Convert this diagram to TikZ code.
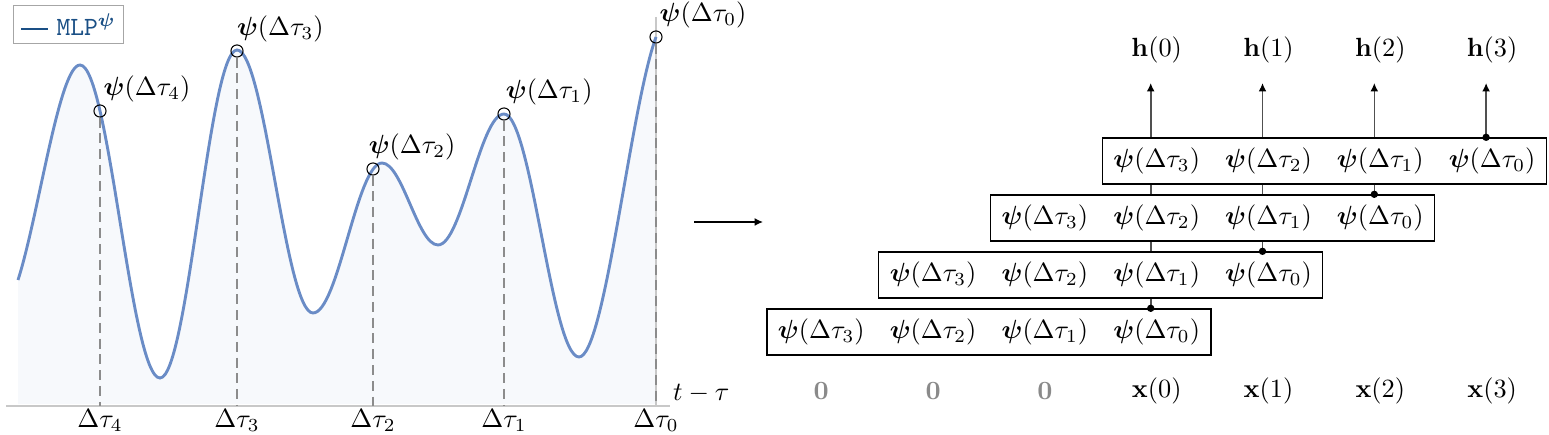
\documentclass[tikz,border=0pt]{standalone}
\usepackage{amsmath}
\usepackage{tikz}
\usetikzlibrary{positioning, arrows.meta, calc, backgrounds}
\definecolor{waveblue}{HTML}{6A8CC6}
\definecolor{wavefill}{HTML}{F7F9FC}
\definecolor{keyblue}{HTML}{1A4F85}
\definecolor{axisgray}{HTML}{C8C8C8}
\definecolor{probegray}{HTML}{8C8C8C}
\definecolor{linkgray}{HTML}{505050}
\definecolor{padgray}{HTML}{8A8A8A}
\newcommand{\psiof}[1]{$\boldsymbol{\psi}(\Delta\tau_{#1})$}
% the MLP output, one cosine-like hump between each extremum
\newcommand{\wave}{(18,280) .. controls (38.7,215.5) and (59.3,65) .. (80,65)
  .. controls +(29.1,0) and +(-29.1,0) .. (160,378)
  .. controls +(28,0) and +(-28,0) .. (237,50)
  .. controls +(27.7,0) and +(-27.7,0) .. (313,313)
  .. controls +(25.1,0) and +(-25.1,0) .. (382,163)
  .. controls +(20.4,0) and +(-20.4,0) .. (438,245)
  .. controls +(24,0) and +(-24,0) .. (504,114)
  .. controls +(27.3,0) and +(-27.3,0) .. (579,357)
  .. controls +(25.7,0) and +(-25.7,70.4) .. (656,37)}
\tikzset{
  wavecurve/.style={draw=waveblue, line width=1.1pt},
  probe/.style={draw=probegray, line width=0.45pt, dash pattern=on 3.8pt off 2.2pt},
  ring/.style={circle, draw, line width=0.4pt, minimum size=4.6pt, inner sep=0pt},
  keybox/.style={draw=gray!70, line width=0.5pt, text=keyblue, minimum width=41.8pt,
                 minimum height=14.4pt, inner sep=2pt},
  rowbox/.style={draw, line width=0.5pt, fill=white, minimum width=168.7pt,
                 minimum height=17.5pt, inner sep=0pt},
  maparrow/.style={-{Latex[length=3.2pt,width=3pt]}, line width=0.5pt},
  uparrow/.style={-{Latex[length=3.2pt,width=3pt,color=black]}, draw=linkgray,
                  line width=0.6pt, shorten >=4pt},
  dot/.style={circle, fill=black, inner sep=0pt, minimum size=2.8pt},
}

\begin{document}
\begin{tikzpicture}[x=0.38pt, y=-0.38pt]
  \useasboundingbox (0,0) rectangle (1549,435);
  \coordinate (o) at (6,406);
  \coordinate (tt) at (670,406);

  % left: sampled curve
  \fill[wavefill] \wave -- (656,404) -- (18,404) -- cycle;
  \draw[axisgray, line width=0.7pt] (o) -- (tt);
  \draw[axisgray, line width=0.6pt] (656,17) -- (656,406);
  \draw[wavecurve] \wave;
  \node[ring] (r4) at (100,111) {};
  \node[ring] (r3) at (237,51) {};
  \node[ring] (r2) at (373,169) {};
  \node[ring] (r1) at (504,114) {};
  \node[ring] (r0) at (656,37) {};
  \foreach \i/\dx in {0/0.7,1/0,2/-2.3,3/-0.7,4/0.7} {
    \draw[probe] (r\i.south) -- (r\i |- o);
    \node[anchor=north, inner sep=1pt] (d\i) at (r\i |- o) {$\Delta\tau_{\i}$};
    \node[anchor=south west, inner sep=0.5pt, xshift=\dx pt] (l\i) at (r\i.north) {\psiof{\i}};
  }
  \node[anchor=south west, inner sep=1pt] (ttau) at (tt) {$t-\tau$};
  \node[keybox, anchor=north west] (key) at (13,5)
       {\rule[0.55ex]{10pt}{0.75pt}\ \texttt{MLP}$^{\boldsymbol{\psi}}$};

  \coordinate (mapfrom) at (694,222);
  \coordinate (mapto) at (763,222);
  \draw[maparrow] (mapfrom) -- (mapto);

  % right: shifted rows of the same four samples
  \foreach \r in {1,...,4} {
    \node[rowbox] (row\r) at ({989+111.8*(\r-1)}, {332-57*(\r-1)}) {};
    \foreach \j [count=\c from 0] in {3,2,1,0}
      \node (p\r\j) at ($(row\r.center)+({111.8*(\c-1.5)},0)$) {\psiof{\j}};
  }
  \foreach \k in {0,1,2}
    \node[text=padgray] (z\k) at ({821.3+111.8*\k},391) {$\mathbf{0}$};
  \foreach \k in {0,...,3} {
    \node (x\k) at ({1156.7+111.8*\k},391) {$\mathbf{x}(\k)$};
    \node (h\k) at ({1156.7+111.8*\k},50) {$\mathbf{h}(\k)$};
    \coordinate (c\k) at ($(h\k.south)+(-6,0)$);
  }
  \begin{scope}[on background layer]
    \foreach \k/\r in {0/1,1/2,2/3,3/4}
      \draw[uparrow] (row\r.north -| c\k) -- (c\k);
  \end{scope}
  \foreach \k/\r in {0/1,1/2,2/3,3/4}
    \node[dot] at (row\r.north -| c\k) {};
\end{tikzpicture}
\end{document}
